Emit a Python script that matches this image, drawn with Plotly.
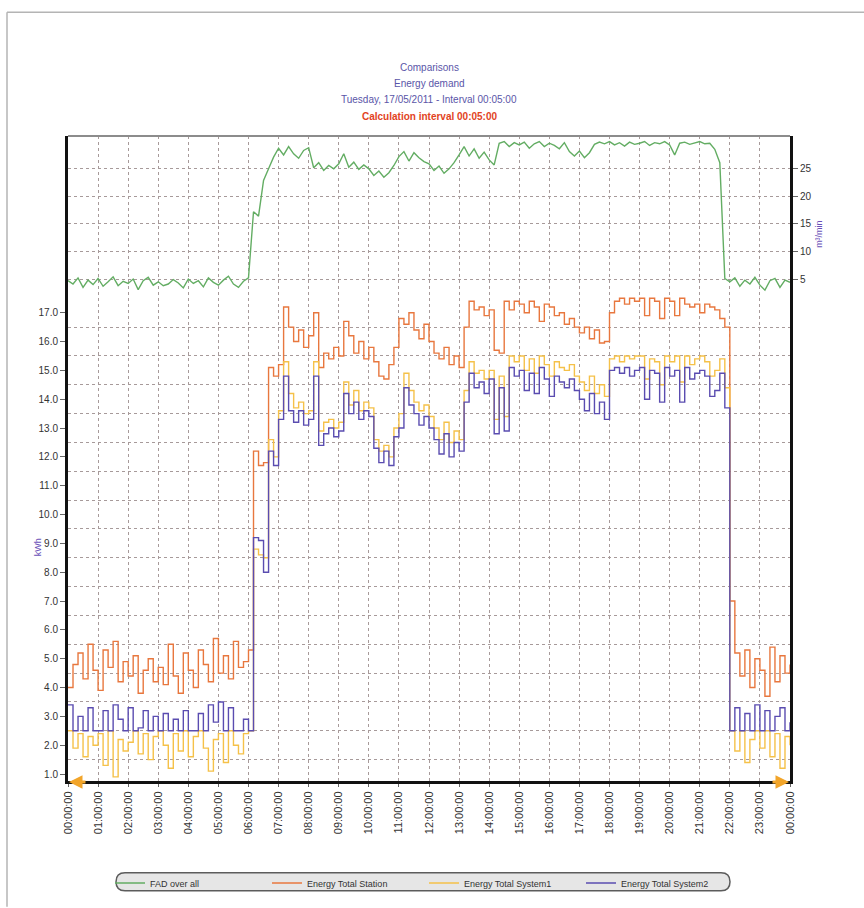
import plotly.graph_objects as go

# ---------------- data ----------------
tick_hours = [0, 1, 2, 3, 4, 5, 6, 7, 8, 9, 10, 11, 12, 13, 14, 15, 16, 17, 18, 19, 20, 21, 22, 23, 24]
tick_labels = ["00:00:00", "01:00:00", "02:00:00", "03:00:00", "04:00:00", "05:00:00",
               "06:00:00", "07:00:00", "08:00:00", "09:00:00", "10:00:00", "11:00:00",
               "12:00:00", "13:00:00", "14:00:00", "15:00:00", "16:00:00", "17:00:00",
               "18:00:00", "19:00:00", "20:00:00", "21:00:00", "22:00:00", "23:00:00",
               "00:00:00"]
kwh_ticks = [1, 2, 3, 4, 5, 6, 7, 8, 9, 10, 11, 12, 13, 14, 15, 16, 17]
kwh_labels = ["1.0", "2.0", "3.0", "4.0", "5.0", "6.0", "7.0", "8.0", "9.0", "10.0",
              "11.0", "12.0", "13.0", "14.0", "15.0", "16.0", "17.0"]
kwh_grid = [1.5, 2.5, 3.5, 4.5, 5.5, 6.5, 7.5, 8.5, 9.5, 10.5, 11.5, 12.5, 13.5, 14.5, 15.5, 16.5]
fad_ticks = [5, 10, 15, 20, 25]

# sample times (hours), one value every 10 minutes
hours = [i / 6 for i in range(145)]

fad = [
    4.8, 4.2, 5.3, 3.6, 4.9, 4.1,
    5.2, 3.8, 4.6, 5.5, 3.9, 4.7,
    4.3, 5.1, 3.2, 4.8, 5.4, 4.0,
    4.6, 3.9, 4.2, 5.0, 4.4, 3.5,
    5.1, 4.3, 4.8, 3.7, 5.3, 4.5,
    4.0, 4.9, 5.6, 4.2, 3.6, 4.7,
    5.3, 17.2, 16.4, 22.8, 24.9, 27.0,
    28.6, 27.4, 28.9, 27.6, 26.8, 28.2,
    28.7, 25.1, 26.0, 24.6, 25.5, 24.9,
    25.8, 27.6, 25.2, 26.1, 24.8, 25.6,
    24.9, 23.7, 24.5, 23.4, 24.2, 25.5,
    27.1, 28.0, 26.3, 27.8, 26.9, 26.2,
    25.8, 24.6, 25.4, 24.1, 24.9, 26.0,
    27.4, 28.9, 27.2, 28.5, 26.8, 27.9,
    26.5, 25.6, 29.5, 29.8, 28.9, 29.6,
    29.2, 29.7, 28.6, 29.4, 29.8, 28.9,
    29.5, 29.1, 28.5, 29.6, 28.0, 27.2,
    28.1, 26.9, 27.8, 29.3, 29.7, 29.4,
    29.8, 29.2, 29.6, 29.0, 29.7, 29.3,
    29.5, 29.8, 29.1, 29.6, 29.4, 29.8,
    29.2, 27.4, 29.5, 29.7, 29.3, 29.6,
    29.8, 29.4, 29.5, 28.4, 26.0, 5.2,
    4.6, 5.3, 3.8, 4.9, 4.2, 5.4,
    4.0, 3.1, 4.8, 5.2, 3.6, 4.9,
    4.5,
]

station = [
    4.0, 4.8, 5.2, 4.3, 5.5, 4.6,
    3.9, 5.3, 4.7, 5.6, 4.2, 4.9,
    4.4, 5.1, 3.8, 4.6, 5.0, 4.2,
    4.7, 4.1, 5.5, 4.4, 3.8, 5.2,
    4.6, 4.0, 5.3, 4.8, 4.2, 5.7,
    4.5, 5.1, 4.3, 5.6, 4.7, 4.9,
    5.3, 12.2, 11.7, 11.8, 15.1, 14.8,
    15.2, 17.2, 16.5, 16.0, 16.4, 15.8,
    16.2, 17.0, 15.1, 15.6, 15.4, 15.8,
    15.5, 16.7, 16.2, 15.6, 16.0, 15.4,
    15.8, 15.3, 14.8, 14.7, 15.2, 15.8,
    16.8, 16.6, 17.0, 16.4, 16.1, 16.6,
    16.0, 15.6, 15.4, 15.8, 15.2, 15.5,
    15.1, 16.5, 17.4, 17.1, 17.2, 16.9,
    17.1, 15.7, 15.6, 17.4, 17.1, 17.4,
    17.3, 17.0, 17.4, 17.2, 16.7, 17.3,
    17.2, 16.9, 17.0, 16.6, 16.8, 16.5,
    16.3, 16.5, 16.1, 16.4, 15.95, 16.0,
    17.0, 17.4, 17.5, 17.3, 17.5, 17.4,
    17.5, 16.9, 17.5, 17.4, 16.8, 17.5,
    17.4, 16.9, 17.5, 17.3, 17.2, 17.3,
    17.0, 17.3, 17.2, 17.1, 16.8, 16.5,
    7.0, 5.2, 4.4, 5.3, 4.0, 5.0,
    4.6, 3.7, 5.4, 4.2, 5.1, 4.5,
    4.8,
]

system1 = [
    2.5, 1.9, 2.4, 1.6, 2.3, 2.0,
    2.4, 1.3, 2.5, 0.9, 2.2, 1.8,
    2.1, 2.5, 1.7, 2.4, 1.5, 2.3,
    2.5, 2.0, 1.2, 2.4, 1.8, 2.5,
    1.6, 2.3, 2.5, 1.9, 1.1, 2.2,
    2.4, 1.4, 2.5, 2.0, 1.7, 2.4,
    2.5, 8.8, 8.6, 8.5, 12.6, 12.0,
    13.6, 15.3, 14.2, 13.7, 13.9, 13.5,
    13.6, 15.3, 12.9, 13.2, 13.3, 13.0,
    13.2, 14.6, 13.8, 14.3, 13.6, 13.9,
    13.7, 12.6, 12.2, 12.4, 12.0, 13.0,
    13.5, 14.9, 14.3, 13.9, 13.6, 13.8,
    13.4, 13.0, 12.6, 13.2, 12.5, 12.9,
    12.6, 14.3, 15.3, 14.9, 15.0, 14.7,
    15.0, 13.3, 14.8, 13.4, 15.5, 15.3,
    15.5, 15.0, 15.4, 14.9, 15.5, 15.2,
    14.8, 15.3, 15.1, 15.0, 15.2, 14.8,
    14.6, 14.3, 14.8, 14.2, 14.5, 14.1,
    15.4, 15.5, 15.3, 15.5, 15.4, 15.5,
    15.5, 14.7, 15.4, 15.3, 14.5, 15.5,
    15.3, 15.5, 14.6, 15.5, 15.2, 15.4,
    15.5, 15.3, 14.8, 15.0, 15.4, 14.4,
    2.5, 1.8, 2.5, 1.4, 2.2, 2.5,
    1.9, 2.5, 1.6, 2.4, 1.2, 2.3,
    2.0,
]

system2 = [
    3.4, 2.5, 3.0, 2.5, 3.3, 2.5,
    2.5, 3.2, 2.5, 3.4, 2.9, 2.5,
    3.3, 2.5, 2.6, 3.2, 2.5, 3.0,
    2.5, 3.1, 2.5, 2.9, 2.5, 3.2,
    2.5, 2.5, 3.1, 2.5, 3.4, 2.8,
    3.5, 2.5, 3.3, 2.5, 2.5, 2.9,
    2.5, 9.2, 9.1, 8.0, 12.2, 11.7,
    13.3, 14.8, 13.6, 13.2, 13.6, 13.1,
    13.3, 14.8, 12.4, 12.8, 13.0, 12.7,
    12.9, 14.2, 13.5, 13.9, 13.3, 13.6,
    13.4, 12.3, 11.8, 12.2, 11.7, 12.7,
    13.0, 14.4, 13.8, 13.5, 13.1, 13.4,
    13.0, 12.6, 12.1, 12.8, 12.0, 12.5,
    12.2, 13.9, 14.9, 14.4, 14.6, 14.2,
    14.7, 12.8, 14.4, 12.9, 15.1, 14.8,
    15.0, 14.3, 14.9, 14.2, 15.1, 14.7,
    14.1, 14.8, 14.6, 14.4, 14.7, 14.3,
    14.0, 13.6, 14.2, 13.5, 13.9, 13.3,
    15.0, 15.1, 14.9, 15.1, 14.8, 15.0,
    15.1, 14.0, 15.0, 14.9, 13.9, 15.1,
    14.8, 15.0, 13.9, 15.1, 14.7, 14.9,
    15.0, 14.8, 14.1, 14.3, 14.9, 13.7,
    2.5, 3.3, 2.5, 3.1, 2.5, 3.4,
    2.5, 3.2, 2.5, 3.0, 3.3, 2.5,
    2.8,
]

# ---------------- styling ----------------
FONT = "Liberation Sans, Arial, sans-serif"
GRID = "#a79a9a"
GRID_DASH = "3px,3px"
FIG_W, FIG_H = 864, 908
L, R, T, B = 68, 790, 136, 782   # plot area in pixels


def px_x(p):
    return (p - L) / (R - L)


def px_y(p):
    return (B - p) / (B - T)


fig = go.Figure()
fig.add_trace(go.Scatter(x=hours, y=fad, name="FAD over all", yaxis="y2",
                         mode="lines", line=dict(color="#63ad63", width=1.4)))
fig.add_trace(go.Scatter(x=hours, y=station, name="Energy Total Station",
                         mode="lines", line=dict(color="#e8773e", width=1.4, shape="hv")))
fig.add_trace(go.Scatter(x=hours, y=system1, name="Energy Total System1",
                         mode="lines", line=dict(color="#f5c149", width=1.4, shape="hv")))
fig.add_trace(go.Scatter(x=hours, y=system2, name="Energy Total System2",
                         mode="lines", line=dict(color="#5a4cb0", width=1.4, shape="hv")))

# legend pill
lx0, lx1, ly0, ly1, rr = 116, 730, 874, 892, 9
pill = (f"M {px_x(lx0+rr)},{px_y(ly0)} L {px_x(lx1-rr)},{px_y(ly0)} "
        f"Q {px_x(lx1)},{px_y(ly0)} {px_x(lx1)},{px_y(ly0+rr)} "
        f"Q {px_x(lx1)},{px_y(ly1)} {px_x(lx1-rr)},{px_y(ly1)} "
        f"L {px_x(lx0+rr)},{px_y(ly1)} "
        f"Q {px_x(lx0)},{px_y(ly1)} {px_x(lx0)},{px_y(ly0+rr)} "
        f"Q {px_x(lx0)},{px_y(ly0)} {px_x(lx0+rr)},{px_y(ly0)} Z")

shapes = [
    # outer frame (left + top)
    dict(type="line", xref="paper", yref="paper", x0=px_x(7), x1=px_x(7),
         y0=px_y(FIG_H), y1=px_y(12), line=dict(color="#b4b4b4", width=1.5)),
    dict(type="line", xref="paper", yref="paper", x0=px_x(7), x1=px_x(FIG_W + 5),
         y0=px_y(12), y1=px_y(12), line=dict(color="#b4b4b4", width=1.5)),
    # top border of plot area
    dict(type="line", xref="paper", yref="paper", x0=0, x1=1, y0=1, y1=1,
         line=dict(color="#8c8c8c", width=2)),
    dict(type="path", xref="paper", yref="paper", path=pill,
         fillcolor="#e6e6e6", line=dict(color="#5c5c5c", width=1.5), layer="below"),
]

title_color = "#5a55a8"
annotations = [
    dict(text="Comparisons", x=0.5, y=px_y(67), xref="paper", yref="paper",
         showarrow=False, font=dict(family=FONT, size=10, color=title_color), yanchor="middle"),
    dict(text="Energy demand", x=0.5, y=px_y(83), xref="paper", yref="paper",
         showarrow=False, font=dict(family=FONT, size=10, color=title_color), yanchor="middle"),
    dict(text="Tuesday, 17/05/2011 - Interval 00:05:00", x=0.5, y=px_y(99), xref="paper",
         yref="paper", showarrow=False, font=dict(family=FONT, size=10, color=title_color),
         yanchor="middle"),
    dict(text="<b>Calculation interval 00:05:00</b>", x=0.5, y=px_y(116), xref="paper",
         yref="paper", showarrow=False, font=dict(family=FONT, size=10, color="#e2431e"),
         yanchor="middle"),
    dict(text="kWh", x=px_x(31), y=px_y(548), xref="paper", yref="paper", textangle=-90,
         showarrow=False, font=dict(family=FONT, size=9, color="#6a4fb8")),
    dict(text="m³/min", x=px_x(826), y=px_y(218), xref="paper", yref="paper", textangle=-90,
         showarrow=False, font=dict(family=FONT, size=9, color="#6a4fb8")),
    # scroll arrows on the time axis
    dict(text="", x=px_x(69), y=px_y(783), xref="paper", yref="paper", showarrow=True,
         ax=18, ay=0, arrowhead=2, arrowsize=0.9, arrowwidth=3, arrowcolor="#f2a52a"),
    dict(text="", x=px_x(789), y=px_y(783), xref="paper", yref="paper", showarrow=True,
         ax=-18, ay=0, arrowhead=2, arrowsize=0.9, arrowwidth=3, arrowcolor="#f2a52a"),
]

fig.update_layout(
    width=FIG_W, height=FIG_H,
    margin=dict(l=L, r=FIG_W - R, t=T, b=FIG_H - B),
    paper_bgcolor="white", plot_bgcolor="white",
    font=dict(family=FONT, color="#333333"),
    showlegend=True,
    legend=dict(orientation="h", x=px_x(110), y=px_y(883), xanchor="left", yanchor="middle",
                bgcolor="rgba(0,0,0,0)", font=dict(family=FONT, size=9, color="#333333"),
                itemwidth=30, entrywidth=112, tracegroupgap=0),
    xaxis=dict(range=[0, 24], tickmode="array", tickvals=tick_hours, ticktext=tick_labels,
               tickangle=-90, tickfont=dict(size=11, color="#333333"),
               showgrid=True, gridcolor=GRID, griddash=GRID_DASH, gridwidth=1,
               showline=True, linecolor="#111111", linewidth=3,
               ticks="outside", ticklen=3, tickcolor="#666666", zeroline=False),
    yaxis=dict(range=[0.758, 23.13], tickmode="array", tickvals=kwh_ticks, ticktext=kwh_labels,
               tickfont=dict(size=10, color="#333333"), showgrid=False,
               minor=dict(tickmode="array", tickvals=kwh_grid, showgrid=True,
                          gridcolor=GRID, griddash=GRID_DASH, gridwidth=1, ticks=""),
               showline=True, linecolor="#111111", linewidth=3,
               ticks="outside", ticklen=5, tickcolor="#666666", zeroline=False),
    yaxis2=dict(range=[-85.1, 30.8], overlaying="y", side="right", tickmode="array",
                tickvals=fad_ticks, tickfont=dict(size=10, color="#333333"),
                showgrid=True, gridcolor=GRID, griddash=GRID_DASH, gridwidth=1,
                showline=True, linecolor="#111111", linewidth=3,
                ticks="outside", ticklen=5, tickcolor="#666666", zeroline=False),
    shapes=shapes,
    annotations=annotations,
)

fig.write_html("out.html")
